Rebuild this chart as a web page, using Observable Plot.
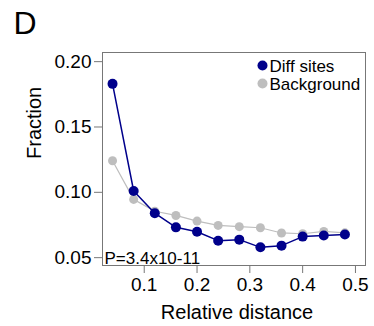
<!DOCTYPE html>
<html><head><meta charset="utf-8">
<script src="https://cdn.jsdelivr.net/npm/d3@7"></script>
<script src="https://cdn.jsdelivr.net/npm/@observablehq/plot@0.6"></script>
<style>body{margin:0;background:#fff;font-family:"Liberation Sans",Arial,sans-serif}</style>
</head><body><div id="chart"></div>
<script>
const distance = [0.04,0.08,0.12,0.16,0.20,0.24,0.28,0.32,0.36,0.40,0.44,0.48];
const diffSites = [0.183,0.101,0.084,0.0732,0.0698,0.063,0.0638,0.0579,0.0592,0.0661,0.0669,0.0677];
const background = [0.1242,0.0946,0.0855,0.0823,0.078,0.0747,0.0737,0.0729,0.0689,0.0683,0.0701,0.069];
const xTicks = [0.1,0.2,0.3,0.4,0.5];
const yTicks = [0.05,0.10,0.15,0.20];
const seriesNames = ["Diff sites","Background"];
const colors = ["#00008B","#BEBEBE"];

const diff = distance.map((x,i)=>({x,y:diffSites[i]}));
const bg = distance.map((x,i)=>({x,y:background[i]}));

const chart = Plot.plot({
  width:374, height:326,
  marginLeft:102, marginRight:9, marginTop:52, marginBottom:61,
  style:{fontFamily:"Liberation Sans, Arial, sans-serif", fontSize:"17px", color:"#000", background:"#fff"},
  x:{domain:[0.021,0.519], label:null},
  y:{domain:[0.044,0.207], label:null},
  marks:[
    Plot.frame({stroke:"#777"}),
    Plot.axisX({ticks:xTicks, tickFormat:d=>String(d), tickSize:8, tickPadding:4, stroke:"#777", fontSize:19, fill:"#000", label:null}),
    Plot.axisY({ticks:yTicks, tickFormat:d3.format(".2f"), tickSize:8, tickPadding:3, stroke:"#777", fontSize:19, fill:"#000", label:null}),
    Plot.line(bg,{x:"x",y:"y",stroke:colors[1],strokeWidth:1.2}),
    Plot.dot(bg,{x:"x",y:"y",fill:colors[1],r:4.5}),
    Plot.line(diff,{x:"x",y:"y",stroke:colors[0],strokeWidth:1.5}),
    Plot.dot(diff,{x:"x",y:"y",fill:colors[0],r:5}),
    Plot.text(["P=3.4x10-11"],{frameAnchor:"bottom-left",dx:2,dy:-2,fontSize:17,textAnchor:"start",lineAnchor:"bottom",fill:"#000"}),
    Plot.dot([seriesNames[0]],{frameAnchor:"top-right",dx:-103,dy:13,fill:colors[0],r:5}),
    Plot.dot([seriesNames[1]],{frameAnchor:"top-right",dx:-103,dy:31,fill:colors[1],r:5}),
    Plot.text([seriesNames[0]],{frameAnchor:"top-right",dx:-96,dy:19,textAnchor:"start",lineAnchor:"bottom",fontSize:17,fill:"#000"}),
    Plot.text([seriesNames[1]],{frameAnchor:"top-right",dx:-96,dy:37,textAnchor:"start",lineAnchor:"bottom",fontSize:17,fill:"#000"}),
    Plot.text(["Fraction"],{frameAnchor:"left",dx:-68,rotate:-90,fontSize:20,fill:"#000"}),
    Plot.text(["Relative distance"],{frameAnchor:"bottom",dx:3,dy:53,lineAnchor:"bottom",fontSize:20,fill:"#000"}),
    Plot.text(["D"],{frameAnchor:"top-left",dx:-89,dy:-19,fontSize:32,textAnchor:"start",lineAnchor:"bottom",fill:"#000"})
  ]
});
document.getElementById("chart").appendChild(chart);
</script></body></html>
